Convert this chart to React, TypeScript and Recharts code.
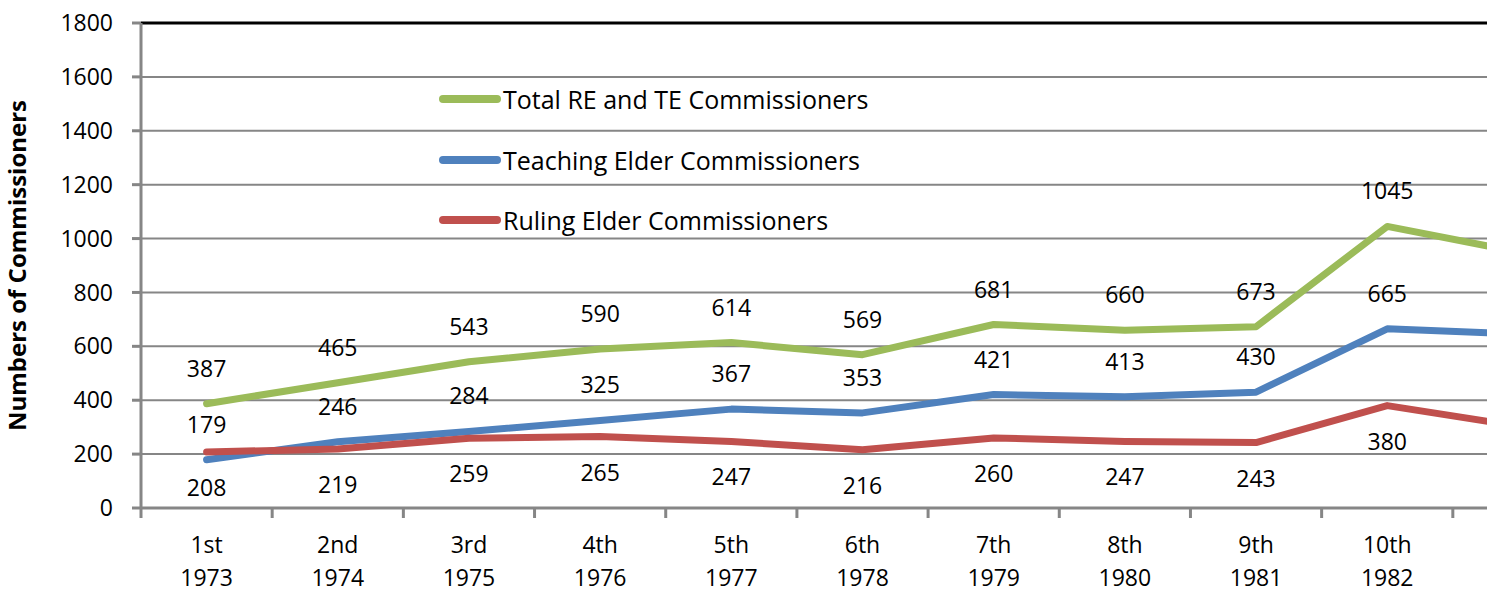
import React from "react";
import {
  LineChart,
  Line,
  XAxis,
  YAxis,
  CartesianGrid,
  ReferenceLine,
  LabelList,
} from "recharts";

// General Assembly sessions; the 11th is cut off at the right edge of the picture
const sessions = ["1st", "2nd", "3rd", "4th", "5th", "6th", "7th", "8th", "9th", "10th", "11th"];
const years = ["1973", "1974", "1975", "1976", "1977", "1978", "1979", "1980", "1981", "1982", "1983"];

const totalCommissioners = [387, 465, 543, 590, 614, 569, 681, 660, 673, 1045, 950];
const teachingElders = [179, 246, 284, 325, 367, 353, 421, 413, 430, 665, 646];
const rulingElders = [208, 219, 259, 265, 247, 216, 260, 247, 243, 380, 304];

const yTicks = [0, 200, 400, 600, 800, 1000, 1200, 1400, 1600, 1800];

const GREEN = "#9BBB59";
const BLUE = "#4F81BD";
const RED = "#C0504D";
const GRID = "#868686";
const FONT = "'Open Sans', 'Noto Sans', sans-serif";

const CHART_W = 1600;
const CHART_H = 599;
const Y_AXIS_W = 141;
const RIGHT_MARGIN = 16;
const PLOT_W = CHART_W - Y_AXIS_W - RIGHT_MARGIN;
const BAND = PLOT_W / sessions.length;
// the last session sits past the right edge of the picture, so its texts are not drawn
const VISIBLE = 10;

const data = sessions.map((s, i) => ({
  pos: i + 0.5,
  session: s,
  year: years[i],
  total: totalCommissioners[i],
  teaching: teachingElders[i],
  ruling: rulingElders[i],
}));

const xTicks = sessions.map((_, i) => i).concat([sessions.length]);

function SessionTick(props: any) {
  const { x, y, payload } = props;
  const i = payload.value as number;
  if (i >= VISIBLE) return null;
  return (
    <g>
      <text x={x + BAND / 2} y={y + 33} textAnchor="middle" fontSize={23} fontFamily={FONT} fill="#000">
        {sessions[i]}
      </text>
      <text x={x + BAND / 2} y={y + 66} textAnchor="middle" fontSize={23} fontFamily={FONT} fill="#000">
        {years[i]}
      </text>
    </g>
  );
}

function makeValueLabel(dy: number) {
  return (props: any) => {
    const { x, y, value, index } = props;
    if (index >= VISIBLE) return null;
    return (
      <text x={x} y={y + dy + 8} textAnchor="middle" fontSize={23} fontFamily={FONT} fill="#000">
        {value}
      </text>
    );
  };
}

const legendItems = [
  { label: "Total RE and TE Commissioners", color: GREEN },
  { label: "Teaching Elder Commissioners", color: BLUE },
  { label: "Ruling Elder Commissioners", color: RED },
];

function LegendBox() {
  return (
    <div
      style={{
        position: "absolute",
        left: 433,
        top: 69,
        fontFamily: FONT,
        fontSize: 25,
        color: "#000",
      }}
    >
      {legendItems.map((it) => (
        <div key={it.label} style={{ display: "flex", alignItems: "center", height: 60.5 }}>
          <svg width={70} height={12}>
            <line x1={10} y1={6} x2={64} y2={6} stroke={it.color} strokeWidth={8} strokeLinecap="round" />
          </svg>
          <span>{it.label}</span>
        </div>
      ))}
    </div>
  );
}

export default function App() {
  return (
    <div
      style={{
        position: "absolute",
        left: 0,
        top: 0,
        width: 1487,
        height: 599,
        overflow: "hidden",
        background: "#fff",
      }}
    >
      <LineChart
        width={CHART_W}
        height={CHART_H}
        data={data}
        margin={{ top: 23, right: RIGHT_MARGIN, bottom: 0, left: 0 }}
      >
        <CartesianGrid vertical={false} stroke={GRID} strokeWidth={2} />
        <XAxis
          dataKey="pos"
          type="number"
          domain={[0, sessions.length]}
          ticks={xTicks}
          interval={0}
          height={91}
          axisLine={{ stroke: GRID, strokeWidth: 3 }}
          tickLine={{ stroke: GRID, strokeWidth: 3 }}
          tickSize={10}
          tick={<SessionTick />}
        />
        <YAxis
          type="number"
          domain={[0, 1800]}
          ticks={yTicks}
          interval={0}
          width={Y_AXIS_W}
          axisLine={{ stroke: GRID, strokeWidth: 3 }}
          tickLine={{ stroke: GRID, strokeWidth: 3 }}
          tickSize={9}
          tickMargin={19}
          tick={{ fontSize: 23, fontFamily: FONT, fill: "#000" }}
          label={{
            value: "Numbers of Commissioners",
            angle: -90,
            position: "insideLeft",
            offset: 17,
            style: { textAnchor: "middle", fontSize: 24, fontWeight: 700, fontFamily: FONT, fill: "#000" },
          }}
        />
        <ReferenceLine y={1800} stroke="#000" strokeWidth={3} />
        <Line
          dataKey="total"
          stroke={GREEN}
          strokeWidth={7}
          strokeLinecap="round"
          strokeLinejoin="round"
          dot={false}
          isAnimationActive={false}
        >
          <LabelList dataKey="total" content={makeValueLabel(-35)} />
        </Line>
        <Line
          dataKey="teaching"
          stroke={BLUE}
          strokeWidth={7}
          strokeLinecap="round"
          strokeLinejoin="round"
          dot={false}
          isAnimationActive={false}
        >
          <LabelList dataKey="teaching" content={makeValueLabel(-35)} />
        </Line>
        <Line
          dataKey="ruling"
          stroke={RED}
          strokeWidth={7}
          strokeLinecap="round"
          strokeLinejoin="round"
          dot={false}
          isAnimationActive={false}
        >
          <LabelList dataKey="ruling" content={makeValueLabel(36)} />
        </Line>
      </LineChart>
      <LegendBox />
    </div>
  );
}
